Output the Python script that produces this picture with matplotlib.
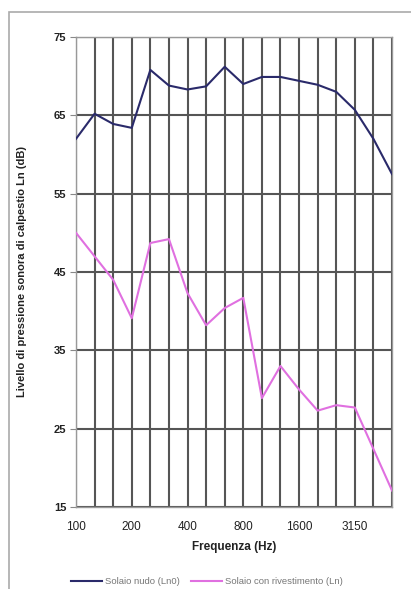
import matplotlib
matplotlib.use("Agg")
import matplotlib.pyplot as plt
from matplotlib.patches import Rectangle
from matplotlib.lines import Line2D

freqs = ["100", "125", "160", "200", "250", "315", "400", "500", "630", "800",
         "1000", "1250", "1600", "2000", "2500", "3150", "4000", "5000"]
ln0 = [62.0, 65.2, 63.9, 63.4, 70.8, 68.8, 68.3, 68.7, 71.2, 69.0,
       69.9, 69.9, 69.4, 68.9, 68.0, 65.7, 62.0, 57.5]
ln = [50.0, 47.0, 44.0, 39.1, 48.7, 49.2, 42.3, 38.2, 40.4, 41.7,
      28.9, 33.0, 30.0, 27.3, 28.0, 27.7, 22.4, 17.1]
tick_labels = ["100", "200", "400", "800", "1600", "3150"]
yticks = [15, 25, 35, 45, 55, 65, 75]

plt.rcParams['font.family'] = ['Liberation Sans', 'DejaVu Sans']

fig = plt.figure(figsize=(4.11, 5.89), dpi=100)
W, H = 411, 589
ax = fig.add_axes([76 / W, 1 - 507 / H, (392 - 76) / W, (507 - 37) / H])

x = list(range(len(freqs)))
ax.plot(x, ln0, color="#2a2a6a", lw=1.5, zorder=3)
ax.plot(x, ln, color="#e070e0", lw=1.5, zorder=3)

ax.set_xlim(0, len(freqs) - 1)
ax.set_ylim(15, 75)
for xi in x:
    ax.axvline(xi, color="#555555", lw=1.5, zorder=1)
for yv in yticks:
    ax.axhline(yv, color="#555555", lw=1.5, zorder=1)

ax.set_yticks(yticks)
ax.set_yticklabels([str(v) for v in yticks], fontsize=8, fontweight='bold', color="#222222")
tick_pos = [freqs.index(t) for t in tick_labels]
ax.set_xticks(tick_pos)
ax.set_xticklabels(tick_labels, fontsize=8.5, color="#222222")
ax.tick_params(axis='y', length=4, color="#888888", pad=3)
ax.tick_params(axis='x', length=0, pad=10)
for s in ax.spines.values():
    s.set_color("#999999")
    s.set_linewidth(1.0)

ax.set_xlabel("Frequenza (Hz)", fontsize=8.5, fontweight='bold', labelpad=6, color="#222222")
fig.text(22 / W, 1 - 272 / H, "Livello di pressione sonora di calpestio Ln (dB)",
         rotation=90, ha='center', va='center', fontsize=8, fontweight='bold', color="#222222")

# chart area border
fig.patches.append(Rectangle((9 / W, -0.05), 1.2, 1 - 12 / H + 0.05, transform=fig.transFigure,
                             fill=False, edgecolor="#aaaaaa", lw=1.2))

handles = [Line2D([], [], color="#2a2a6a", lw=1.5), Line2D([], [], color="#e070e0", lw=1.5)]
fig.legend(handles, ["Solaio nudo (Ln0)", "Solaio con rivestimento (Ln)"],
           loc='center', bbox_to_anchor=(207 / W, 1 - 582 / H), ncol=2, frameon=False,
           fontsize=6.8, handlelength=3.3, columnspacing=1.2, handletextpad=0.3,
           labelcolor="#777777")

fig.savefig("out.png", dpi=100)
